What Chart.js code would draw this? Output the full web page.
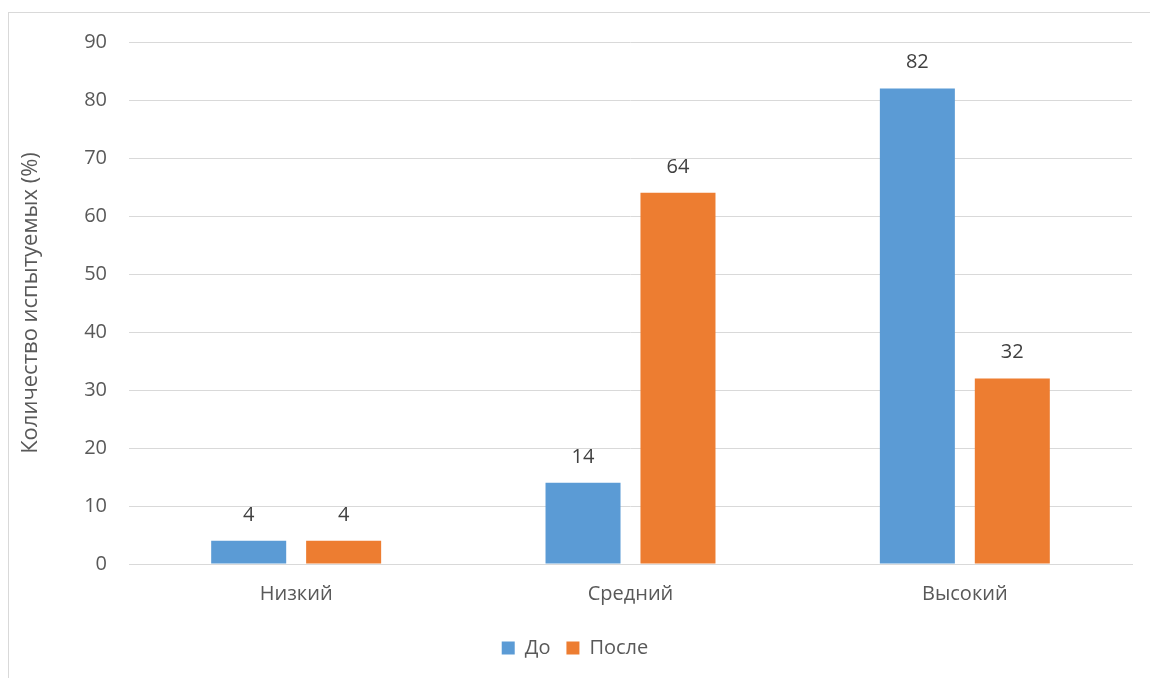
<!DOCTYPE html>
<html>
<head>
<meta charset="utf-8">
<script src="https://cdn.jsdelivr.net/npm/chart.js@4"></script>
<style>
  body { margin: 0; background: #fff; }
  .wrap { position: relative; width: 1150px; height: 678px; overflow: hidden; }
  .frame { position: absolute; left: 8px; top: 12px; width: 1160px; height: 700px; border: 1px solid #d9d9d9; box-sizing: border-box; }
  canvas { position: absolute; left: 0; top: 0; }
</style>
</head>
<body>
<div class="wrap">
  <div class="frame"></div>
  <canvas id="grafico" width="1150" height="678"></canvas>
</div>
<script>
// уровни и проценты испытуемых
const categorias = ['Низкий', 'Средний', 'Высокий'];
const valoresDo = [4, 14, 82];
const valoresPosle = [4, 64, 32];
const yMax = 90;
const yStep = 10;

const FONTE = "'Open Sans', 'Liberation Sans', sans-serif";
const TAM = 20;

// подписи значений над столбиками
const rotulos = {
    id: 'rotulos',
    afterDatasetsDraw(chart) {
        const ctx = chart.ctx;
        ctx.save();
        ctx.font = TAM + 'px ' + FONTE;
        ctx.fillStyle = '#404040';
        ctx.textAlign = 'center';
        ctx.textBaseline = 'middle';
        chart.data.datasets.forEach((ds, i) => {
            chart.getDatasetMeta(i).data.forEach((bar, j) => {
                ctx.fillText(ds.data[j], bar.x, bar.y - 26);
            });
        });
        ctx.restore();
    }
};

new Chart(document.getElementById('grafico'), {
    type: 'bar',
    data: {
        labels: categorias,
        datasets: [
            { label: 'До', data: valoresDo, backgroundColor: '#5b9bd5', categoryPercentage: 0.568, barPercentage: 0.79 },
            { label: 'После', data: valoresPosle, backgroundColor: '#ed7d31', categoryPercentage: 0.568, barPercentage: 0.79 }
        ]
    },
    options: {
        responsive: false,
        animation: false,
        layout: { padding: { left: 18, right: 18, top: 42, bottom: 10 } },
        plugins: {
            tooltip: { enabled: false },
            legend: {
                position: 'bottom',
                labels: {
                    boxWidth: 13, boxHeight: 13, padding: 16,
                    color: '#595959',
                    font: { family: FONTE, size: TAM }
                }
            }
        },
        scales: {
            x: {
                afterFit(scale) { scale.height = 58; },
                grid: { display: false, drawTicks: false },
                border: { color: '#d9d9d9' },
                ticks: { color: '#595959', padding: 18, font: { family: FONTE, size: TAM } }
            },
            y: {
                min: 0, max: yMax,
                afterFit(scale) { scale.width = 111; },
                grid: { color: '#d9d9d9', drawTicks: false },
                border: { display: false },
                ticks: { stepSize: yStep, color: '#595959', padding: 22, font: { family: FONTE, size: TAM } },
                title: {
                    display: true,
                    text: 'Количество испытуемых (%)',
                    color: '#595959',
                    padding: { top: 0, bottom: 4 },
                    font: { family: FONTE, size: 22 }
                }
            }
        }
    },
    plugins: [rotulos]
});
</script>
</body>
</html>
